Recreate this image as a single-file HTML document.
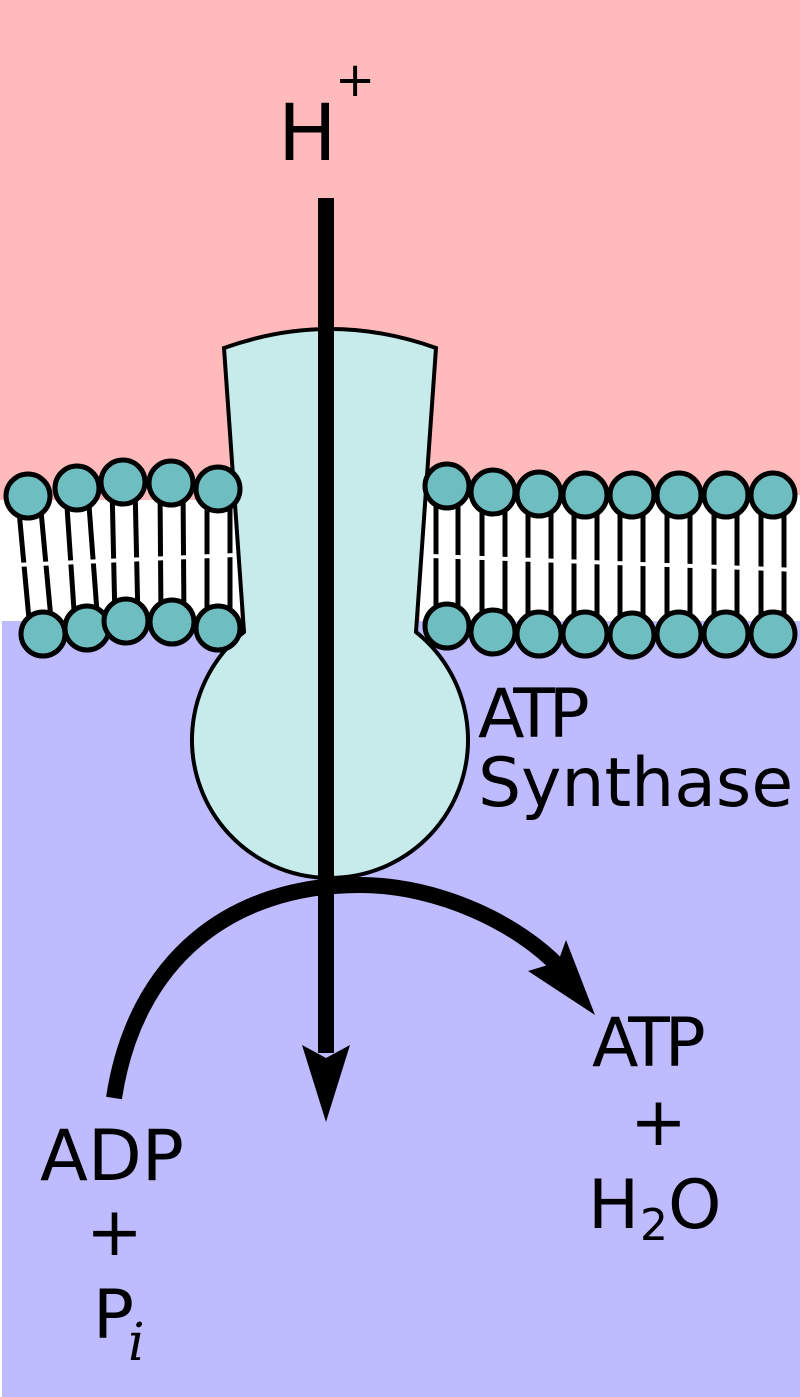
<!DOCTYPE html>
<html><head><meta charset="utf-8"><style>
html,body{margin:0;padding:0;background:#fff}
svg{display:block}
text{font-family:"DejaVu Sans","Liberation Sans",sans-serif;fill:#000}
</style></head><body>
<svg width="800" height="1397" viewBox="0 0 800 1397" xmlns="http://www.w3.org/2000/svg">
<rect x="0" y="0" width="800" height="621" fill="#ffbbbb"/>
<rect x="2" y="621" width="798" height="776" fill="#bfbbff"/>
<rect x="0" y="500" width="240" height="121" fill="#fff"/>
<rect x="420" y="495" width="380" height="126" fill="#fff"/>
<g stroke="#000" stroke-width="5" fill="none">
<line x1="18" y1="500" x2="30" y2="630"/><line x1="40" y1="500" x2="52" y2="630"/>
<line x1="66" y1="492" x2="75" y2="625"/><line x1="88" y1="492" x2="98" y2="625"/>
<line x1="112" y1="486" x2="115" y2="620"/><line x1="135" y1="486" x2="138" y2="620"/>
<line x1="160" y1="487" x2="161" y2="620"/><line x1="183" y1="487" x2="184" y2="620"/>
<line x1="207" y1="492" x2="207" y2="625"/><line x1="230" y1="492" x2="230" y2="625"/>
</g>
<g stroke="#000" stroke-width="5">
<line x1="436" y1="490" x2="436" y2="625"/><line x1="458" y1="490" x2="458" y2="625"/>
<line x1="482" y1="495" x2="482" y2="630"/><line x1="505" y1="495" x2="505" y2="630"/>
<line x1="528" y1="497" x2="528" y2="632"/><line x1="551" y1="497" x2="551" y2="632"/>
<line x1="574" y1="497" x2="574" y2="632"/><line x1="597" y1="497" x2="597" y2="632"/>
<line x1="620" y1="497" x2="620" y2="632"/><line x1="643" y1="497" x2="643" y2="632"/>
<line x1="667" y1="497" x2="667" y2="632"/><line x1="690" y1="497" x2="690" y2="632"/>
<line x1="714" y1="497" x2="714" y2="632"/><line x1="737" y1="497" x2="737" y2="632"/>
<line x1="761" y1="497" x2="761" y2="632"/><line x1="784" y1="497" x2="784" y2="632"/>
</g>
<path d="M15,565 L235,555 M430,556 L800,570" stroke="#fff" stroke-width="4" stroke-dasharray="14 9" fill="none"/>
<path d="M224,348 Q330,310 436,348 L416,632 A138,138 0 1 1 244,632 Z" fill="#c7ebeb" stroke="#000" stroke-width="4"/>
<g fill="#6ebdc0" stroke="#000" stroke-width="5">
<circle cx="28" cy="496" r="22"/><circle cx="77" cy="488" r="22"/><circle cx="123" cy="482" r="22"/><circle cx="171" cy="483" r="22"/><circle cx="218" cy="489" r="22"/>
<circle cx="43" cy="634" r="22"/><circle cx="87" cy="628" r="22"/><circle cx="126" cy="621" r="22"/><circle cx="172" cy="622" r="22"/><circle cx="218" cy="628" r="22"/>
<circle cx="447" cy="486" r="22"/><circle cx="493" cy="492" r="22"/><circle cx="539" cy="494" r="22"/><circle cx="585" cy="495" r="22"/><circle cx="632" cy="495" r="22"/><circle cx="679" cy="495" r="22"/><circle cx="726" cy="495" r="22"/><circle cx="773" cy="495" r="22"/>
<circle cx="447" cy="626" r="22"/><circle cx="493" cy="632" r="22"/><circle cx="539" cy="634" r="22"/><circle cx="585" cy="634" r="22"/><circle cx="632" cy="635" r="22"/><circle cx="679" cy="634" r="22"/><circle cx="726" cy="634" r="22"/><circle cx="773" cy="634" r="22"/>
</g>
<rect x="318" y="198" width="16" height="855" fill="#000"/>
<polygon points="302,1045 326,1058 350,1045 326,1122" fill="#000"/>
<path d="M114,1098 C135,960 230,885 360,885 C440,885 520,925 560,968" stroke="#000" stroke-width="16" fill="none"/>
<polygon points="566,940 595,1015 528,971 558,962" fill="#000"/>
<text x="278" y="160" font-size="78">H</text>
<text x="335" y="96" font-size="48">+</text>
<text x="478" y="737" font-size="68" letter-spacing="-6">ATP</text>
<text x="478" y="806" font-size="68">Synthase</text>
<text x="592" y="1066" font-size="68" letter-spacing="-5">ATP</text>
<text x="630" y="1145" font-size="68">+</text>
<text x="588" y="1228" font-size="68">H</text>
<text x="640" y="1240" font-size="44">2</text>
<text x="668" y="1228" font-size="68">O</text>
<text x="40" y="1180" font-size="70">ADP</text>
<text x="86" y="1255" font-size="68">+</text>
<text x="93" y="1338" font-size="68">P</text>
<text x="128" y="1360" font-size="52" font-style="italic" style="font-family:'DejaVu Serif','Liberation Serif',serif">i</text>
</svg>
</body></html>
